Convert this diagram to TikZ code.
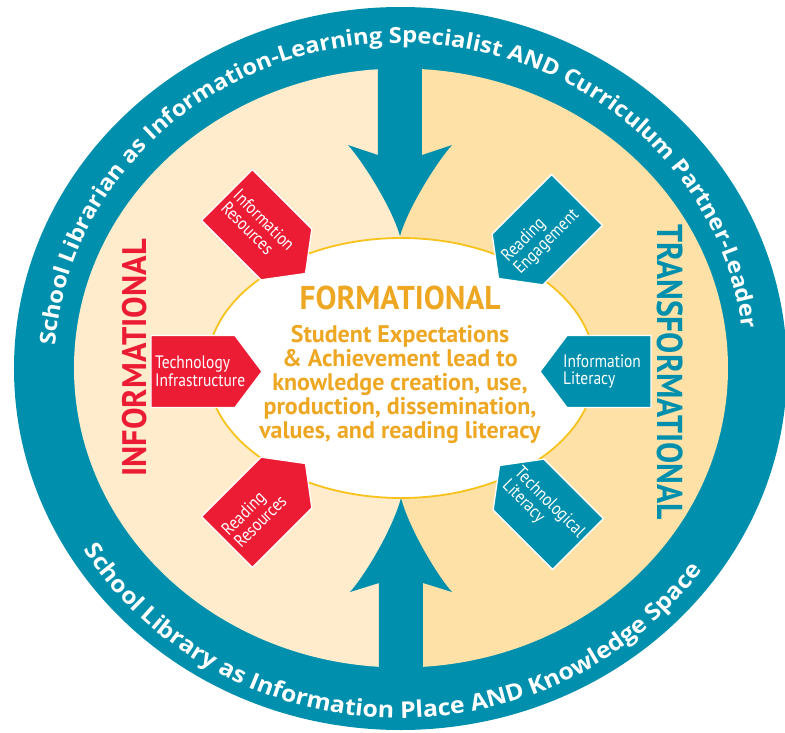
\documentclass[tikz,border=0pt]{standalone}
\usepackage{fontspec}
\setmainfont{PT Sans}
\newfontfamily\labfont[FakeStretch=0.86]{PT Sans}
\newfontfamily\midfont[FakeStretch=0.88]{PT Sans}
\newfontfamily\midfontwide[FakeStretch=0.95]{PT Sans}
\newfontfamily\ringfont[FakeStretch=1.08]{Open Sans}
\usetikzlibrary{decorations.text}
\definecolor{ringteal}{HTML}{0090AD}
\definecolor{pentred}{HTML}{EC1C35}
\definecolor{beigeL}{HTML}{FEECCD}
\definecolor{beigeR}{HTML}{FDE1A6}
\definecolor{formorange}{HTML}{EEA722}
\definecolor{ellline}{HTML}{F8C21C}
% #1 name, #2 back-edge midpoint, #3 direction, #4 fill, #5 text turn, #6 label start, #7 text
\newcommand\pentagonbox[7]{%
  \begin{scope}[shift={#2}, rotate=#3]
    \draw[pentshape, fill=#4] (0,36) -- (84,36) -- (111,0) -- (84,-36) -- (0,-36) -- cycle;
    \node[pentlabel, transform shape, rotate=#5, anchor=west] (#1) at (#6,0) {#7};
  \end{scope}}
\begin{document}
\begin{tikzpicture}[x=1pt,y=1pt,
  pentshape/.style={draw=white, line width=1.3pt, line join=miter},
  pentlabel/.style={text=white, align=left, font=\labfont\fontsize{18}{17.5}\selectfont, inner sep=0pt},
  bigword/.style={inner sep=0pt},
  arrowfill/.style={fill=ringteal}]
\useasboundingbox (-400,368) rectangle (385,-364);
\fill[white] (-400,368) rectangle (385,-364);
% outer ring
\fill[ringteal] (0.5,-0.5) ellipse [x radius=386.5, y radius=361.5];
% inner halves
\begin{scope}
  \clip (1,0) ellipse [x radius=327, y radius=299.5];
  \fill[beigeL] (-340,-320) rectangle (0,320);
  \fill[beigeR] (0,-320) rectangle (340,320);
\end{scope}
% arrows
\fill[arrowfill] (-22,330) -- (-22,213) -- (-52,223) .. controls (-36,205) and (-8,160) .. (0,132)
  .. controls (8,160) and (36,205) .. (52,223) -- (22,213) -- (22,330) -- cycle;
\fill[arrowfill] (-21,-330) -- (-21,-215) -- (-50,-224) .. controls (-34,-206) and (-7,-160) .. (1,-130)
  .. controls (9,-160) and (36,-206) .. (52,-224) -- (23,-215) -- (23,-330) -- cycle;
% central ellipse
\draw[ellline, line width=1.8pt, fill=white] (1,0) ellipse [x radius=194, y radius=130];
% pentagons
\pentagonbox{techinfra}{(-249,-3.5)}{0}{pentred}{0}{4}{Technology\\Infrastructure}
\pentagonbox{infores}{(-173,173)}{-45}{pentred}{0}{5}{Information\\Resources}
\pentagonbox{readres}{(-173,-174)}{45}{pentred}{0}{5}{Reading\\Resources}
\pentagonbox{readeng}{(177,168)}{-135}{ringteal}{180}{93}{Reading\\Engagement}
\pentagonbox{infolit}{(251,-3.5)}{180}{ringteal}{180}{88}{Information\\Literacy}
\pentagonbox{techlit}{(178,-176)}{135}{ringteal}{180}{95}{Technological\\Literacy}
% big words
\node[bigword, rotate=90, text=pentred, font=\midfontwide\bfseries\fontsize{34}{34}\selectfont] (informational) at (-265,10) {INFORMATIONAL};
\node[bigword, rotate=-90, text=ringteal, font=\midfont\bfseries\fontsize{36}{36}\selectfont] (transformational) at (270,-4) {TRANSFORMATIONAL};
\node[bigword, text=formorange, font=\midfontwide\bfseries\fontsize{33}{33}\selectfont] (formational) at (0,70) {FORMATIONAL};
\node[bigword, text=formorange, align=center, font=\bfseries\fontsize{24}{24}\selectfont] (student) at (0,-16.5)
  {Student Expectations\\ \& Achievement lead to\\ knowledge creation, use,\\ production, dissemination,\\ values, and reading literacy};
% ring texts
\path[decorate, decoration={text along path, text align=center,
  text={|\ringfont\bfseries\fontsize{22}{22}\selectfont\color{white}|School Librarian as Information-Learning Specialist AND Curriculum Partner-Leader}}]
  (189:345 and 325) arc[start angle=189, end angle=-6, x radius=345, y radius=325];
\path[decorate, decoration={text along path, text align=center,
  text={|\ringfont\bfseries\fontsize{23}{23}\selectfont\color{white}|School Library as Information Place AND Knowledge Space}}]
  (195:370 and 350) arc[start angle=195, end angle=341, x radius=370, y radius=350];
\end{tikzpicture}
\end{document}
